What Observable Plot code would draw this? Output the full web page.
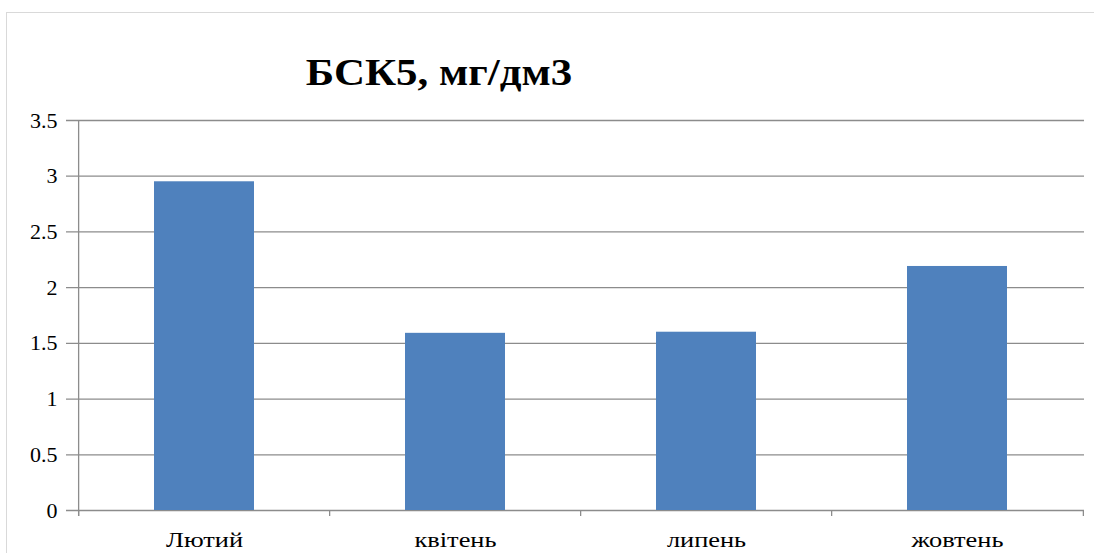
<!DOCTYPE html>
<html>
<head>
<meta charset="utf-8">
<script src="https://cdn.jsdelivr.net/npm/d3@7"></script>
<script src="https://cdn.jsdelivr.net/npm/@observablehq/plot@0.6"></script>
<style>
  html, body { margin: 0; padding: 0; background: #fff; }
  #wrap { position: relative; width: 1094px; height: 553px; overflow: hidden; }
  #frame { position: absolute; left: 6px; top: 12px; width: 1200px; height: 700px;
           border-left: 1px solid #d9d9d9; border-top: 1px solid #d9d9d9; }
  #title { position: absolute; left: 0; width: 878px; top: 50px; text-align: center;
           font-family: "Liberation Serif", "Times New Roman", serif; font-weight: bold;
           font-size: 38px; line-height: 44px; color: #000;
           transform: scaleX(1.13); transform-origin: 439px 0; }
  #chart { position: absolute; left: 0; top: 0; }
</style>
</head>
<body>
<div id="wrap">
  <div id="frame"></div>
  <div id="title">БСК5, мг/дм3</div>
  <div id="chart"></div>
</div>
<script>
// BOD5 by sampling month, mg/dm3
const months = ["Лютий", "квітень", "липень", "жовтень"];
const bod5 = [2.95, 1.59, 1.6, 2.19];
const yTicks = [0, 0.5, 1, 1.5, 2, 2.5, 3, 3.5];

const data = months.map((m, i) => ({month: m, value: bod5[i]}));

const width = 1094, height = 553;
const marginLeft = 77, marginRight = 10, marginTop = 120, marginBottom = 43;
const paddingInner = 0.6, paddingOuter = 0.3;
// width of one category band, used to put axis ticks on band boundaries
const step = (width - marginLeft - marginRight) / (months.length - paddingInner + 2 * paddingOuter);

const font = "Liberation Serif, Times New Roman, serif";
const gridColor = "#8c8c8c";

// widen the month labels horizontally around their anchor point
function widenLabels(index, scales, values, dimensions, context, next) {
  const g = next(index, scales, values, dimensions, context);
  g.querySelectorAll("text").forEach(t => {
    const tr = t.getAttribute("transform") || "";
    t.setAttribute("transform", tr + " scale(1.2,1)");
  });
  return g;
}

const chart = Plot.plot({
  width, height, marginLeft, marginRight, marginTop, marginBottom,
  style: {fontFamily: font, fontSize: "22px", color: "#000", background: "transparent"},
  x: {domain: months, paddingInner, paddingOuter, axis: null},
  y: {domain: [0, 3.5], axis: null},
  marks: [
    // horizontal gridlines, reaching a little past the value axis
    Plot.ruleY(yTicks, {stroke: gridColor, strokeWidth: 1.3, insetLeft: -11}),
    // value axis line
    Plot.ruleX([months[0]], {y1: 3.5, y2: 0, dx: -step / 2, stroke: gridColor, strokeWidth: 1.3, insetBottom: -6}),
    // category boundary ticks
    Plot.ruleX(months, {y1: 0, y2: 0, dx: -step / 2, stroke: gridColor, strokeWidth: 1.3, insetBottom: -6}),
    Plot.ruleX([months[months.length - 1]], {y1: 0, y2: 0, dx: step / 2, stroke: gridColor, strokeWidth: 1.3, insetBottom: -6}),
    Plot.barY(data, {x: "month", y: "value", fill: "#4f81bd"}),
    Plot.axisY(yTicks, {tickSize: 0, tickPadding: 20, tickFormat: d => String(d), fontSize: 22, fill: "#000", label: null}),
    Plot.axisX({tickSize: 0, tickPadding: 21, fontSize: 22, fill: "#000", label: null, render: widenLabels})
  ]
});

document.getElementById("chart").appendChild(chart);
</script>
</body>
</html>
